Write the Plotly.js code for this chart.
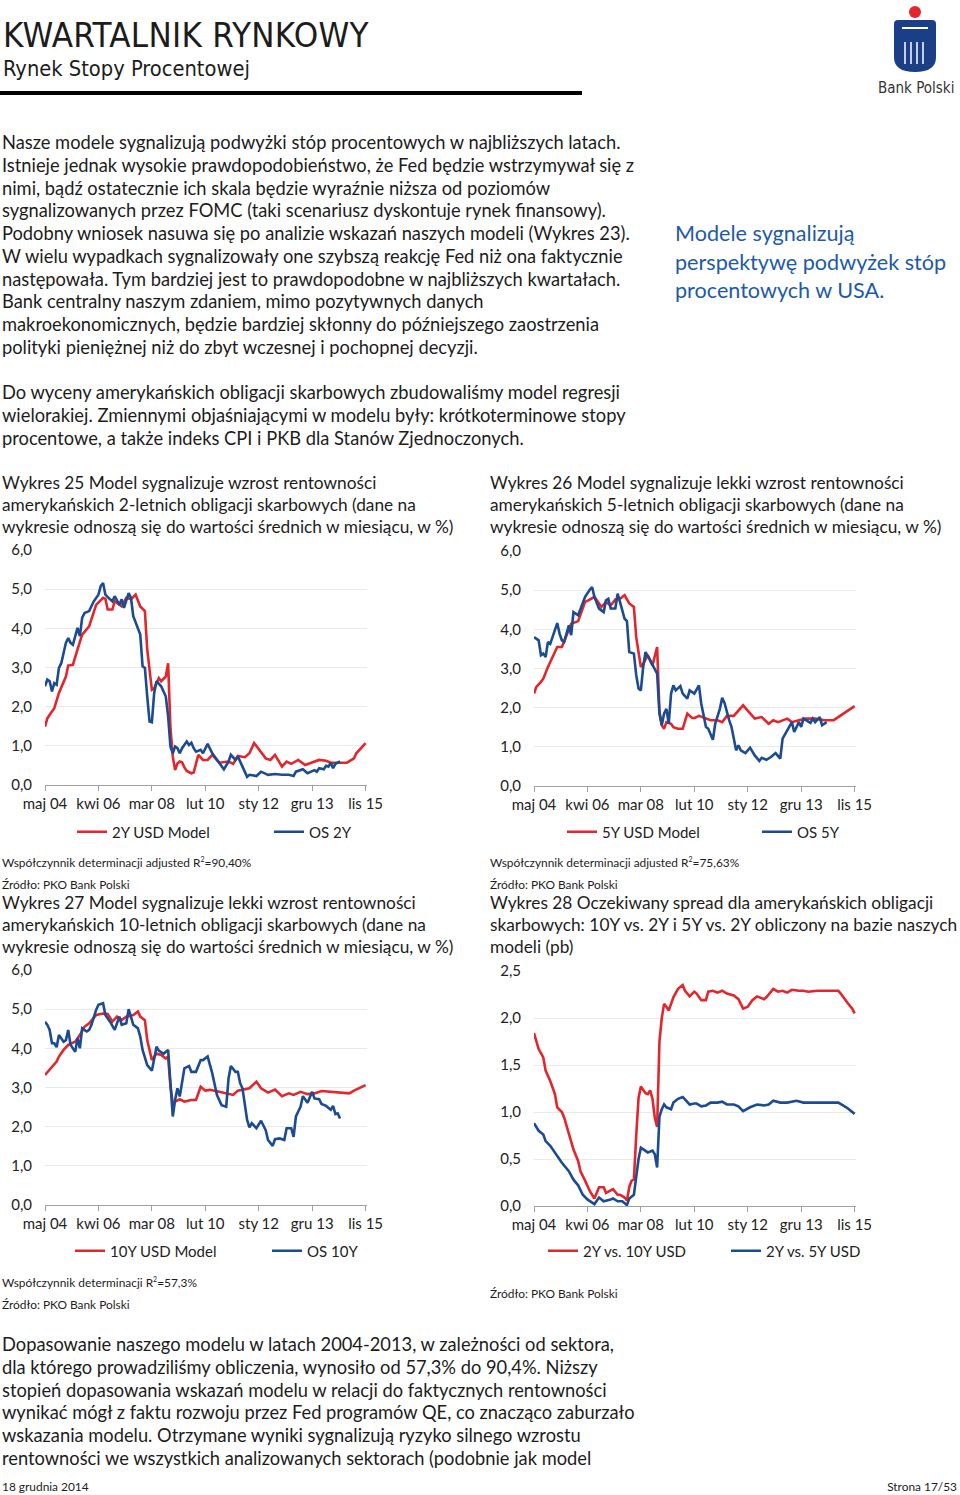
<!DOCTYPE html>
<html><head><meta charset="utf-8">
<script src="https://cdn.plot.ly/plotly-3.0.1.min.js"></script>
<style>
body{margin:0;width:960px;height:1495px;position:relative;background:#fff;font-family:Lato,"Noto Sans",sans-serif;color:#1c1c1c;overflow:hidden}
.t{position:absolute;white-space:nowrap}
.p{font-size:18.3px;line-height:22.75px;left:2px}
.ct{font-size:17.3px;line-height:22px}
.sm{font-size:11.9px}
.ch{position:absolute;width:480px;height:320px}
</style></head><body>
<div class="t" style="left:3px;top:15px;font-family:'Liberation Sans Narrow','DejaVu Sans Condensed',sans-serif;font-size:34.6px;font-weight:300;letter-spacing:0.3px">KWARTALNIK RYNKOWY</div>
<div class="t" style="left:3px;top:56px;font-family:'Liberation Sans Narrow','DejaVu Sans Condensed',sans-serif;font-size:21.7px">Rynek Stopy Procentowej</div>
<div style="position:absolute;left:0;top:91px;width:582px;height:4px;background:#000"></div>
<svg style="position:absolute;left:885px;top:2px" width="60" height="75" viewBox="0 0 60 75">
<circle cx="30" cy="10" r="6" fill="#e2262c"/>
<path d="M9,22 Q9,18 13,18 L47,18 Q51,18 51,22 L51,55 Q51,70 30,70 Q9,70 9,55 Z" fill="#1b3f86"/>
<path d="M17,26 L43,26" stroke="#fff" stroke-width="2"/>
<path d="M20,40 L20,62 M26,40 L26,62 M32,40 L32,62 M38,40 L38,62" stroke="#fff" stroke-width="1.5"/>
</svg>
<div class="t" style="left:878px;top:79px;font-family:'Liberation Sans Narrow','DejaVu Sans Condensed',sans-serif;font-size:15px;color:#333">Bank Polski</div>

<div class="t p" style="top:131px">Nasze modele sygnalizują podwyżki stóp procentowych w najbliższych latach.<br>Istnieje jednak wysokie prawdopodobieństwo, że Fed będzie wstrzymywał się z<br>nimi, bądź ostatecznie ich skala będzie wyraźnie niższa od poziomów<br>sygnalizowanych przez FOMC (taki scenariusz dyskontuje rynek finansowy).<br>Podobny wniosek nasuwa się po analizie wskazań naszych modeli (Wykres 23).<br>W wielu wypadkach sygnalizowały one szybszą reakcję Fed niż ona faktycznie<br>następowała. Tym bardziej jest to prawdopodobne w najbliższych kwartałach.<br>Bank centralny naszym zdaniem, mimo pozytywnych danych<br>makroekonomicznych, będzie bardziej skłonny do późniejszego zaostrzenia<br>polityki pieniężnej niż do zbyt wczesnej i pochopnej decyzji.</div>
<div class="t" style="left:675px;top:219px;font-size:21.6px;line-height:28.5px;color:#1d5aa8">Modele sygnalizują<br>perspektywę podwyżek stóp<br>procentowych w USA.</div>
<div class="t p" style="top:381px">Do wyceny amerykańskich obligacji skarbowych zbudowaliśmy model regresji<br>wielorakiej. Zmiennymi objaśniającymi w modelu były: krótkoterminowe stopy<br>procentowe, a także indeks CPI i PKB dla Stanów Zjednoczonych.</div>

<div class="t ct" style="left:2px;top:472px">Wykres 25 Model sygnalizuje wzrost rentowności<br>amerykańskich 2-letnich obligacji skarbowych (dane na<br>wykresie odnoszą się do wartości średnich w miesiącu, w %)</div>
<div class="t ct" style="left:490px;top:472px">Wykres 26 Model sygnalizuje lekki wzrost rentowności<br>amerykańskich 5-letnich obligacji skarbowych (dane na<br>wykresie odnoszą się do wartości średnich w miesiącu, w %)</div>
<div class="t sm" style="left:2px;top:855px">Współczynnik determinacji adjusted R<sup style="font-size:7px">2</sup>=90,40%</div>
<div class="t sm" style="left:490px;top:855px">Współczynnik determinacji adjusted R<sup style="font-size:7px">2</sup>=75,63%</div>
<div class="t sm" style="left:2px;top:877px">Źródło: PKO Bank Polski</div>
<div class="t sm" style="left:490px;top:877px">Źródło: PKO Bank Polski</div>
<div class="t ct" style="left:2px;top:892px">Wykres 27 Model sygnalizuje lekki wzrost rentowności<br>amerykańskich 10-letnich obligacji skarbowych (dane na<br>wykresie odnoszą się do wartości średnich w miesiącu, w %)</div>
<div class="t ct" style="left:490px;top:892px">Wykres 28 Oczekiwany spread dla amerykańskich obligacji<br>skarbowych: 10Y vs. 2Y i 5Y vs. 2Y obliczony na bazie naszych<br>modeli (pb)</div>
<div class="t sm" style="left:2px;top:1275px">Współczynnik determinacji R<sup style="font-size:7px">2</sup>=57,3%</div>
<div class="t sm" style="left:2px;top:1297px">Źródło: PKO Bank Polski</div>
<div class="t sm" style="left:490px;top:1286px">Źródło: PKO Bank Polski</div>

<div class="t p" style="top:1333px">Dopasowanie naszego modelu w latach 2004-2013, w zależności od sektora,<br>dla którego prowadziliśmy obliczenia, wynosiło od 57,3% do 90,4%. Niższy<br>stopień dopasowania wskazań modelu w relacji do faktycznych rentowności<br>wynikać mógł z faktu rozwoju przez Fed programów QE, co znacząco zaburzało<br>wskazania modelu. Otrzymane wyniki sygnalizują ryzyko silnego wzrostu<br>rentowności we wszystkich analizowanych sektorach (podobnie jak model</div>
<div class="t sm" style="left:2px;top:1479px">18 grudnia 2014</div>
<div class="t sm" style="right:3px;top:1479px">Strona 17/53</div>

<div id="c1" class="ch" style="left:0;top:530px"></div>
<div id="c2" class="ch" style="left:488px;top:531px"></div>
<div id="c3" class="ch" style="left:0;top:950px"></div>
<div id="c4" class="ch" style="left:488px;top:951px"></div>

<script>
// x values: months since May 2004
const xTickMonths = [0, 23, 46, 69, 92, 115, 138];
const xTickLabels = ['maj 04', 'kwi 06', 'mar 08', 'lut 10', 'sty 12', 'gru 13', 'lis 15'];

// Wykres 25: 2Y
const m2yModel = [0,1,3,4,6,9,10,12,14,16,19,22,25,26,27,29,30,33,35,37,39,41,43,44,46,47,49,50,52,53,54,55,56,57,58,59,60,61,63,64,66,68,70,72,75,79,81,83,86,88,90,92,95,97,99,102,104,106,109,112,115,118,121,123,130,133,134,136,138];
const v2yModel = [1.49,1.70,1.88,1.96,2.35,2.77,3.05,3.07,3.46,3.84,4.05,4.60,4.78,4.75,4.48,4.48,4.69,4.56,4.78,4.74,4.86,4.56,4.44,3.46,2.43,2.47,2.73,2.65,2.77,3.11,1.45,0.73,0.38,0.55,0.60,0.58,0.45,0.36,0.30,0.32,0.77,0.64,0.64,0.77,0.57,0.60,0.54,0.74,0.71,0.81,1.07,0.92,0.68,0.64,0.77,0.47,0.60,0.54,0.64,0.51,0.57,0.64,0.62,0.57,0.57,0.68,0.81,0.94,1.07];
const m2yOS = [0,1,2,3,4,5,6,7,9,10,11,12,14,15,16,17,19,21,23,24,25,26,28,29,30,32,33,34,36,37,38,40,41,42,43,44,45,46,47,48,50,52,53,54,55,56,57,58,59,61,62,63,64,65,67,68,70,72,74,75,77,79,80,82,83,85,87,88,91,93,96,99,102,105,107,108,110,111,113,116,117,118,120,121,122,123,124,125,127];
const v2yOS = [2.52,2.69,2.65,2.39,2.60,2.56,2.99,3.11,3.63,3.75,3.63,3.58,4.01,3.80,4.27,4.39,4.44,4.69,4.86,5.08,5.16,4.86,4.74,4.69,4.82,4.60,4.74,4.52,4.90,4.78,4.31,4.01,3.84,3.03,2.99,2.26,1.62,1.60,2.35,2.65,2.52,2.26,1.75,0.98,0.81,0.98,0.94,0.81,0.94,1.11,1.02,1.08,0.94,0.85,0.90,0.81,1.05,0.81,0.64,0.55,0.40,0.60,0.77,0.64,0.73,0.47,0.21,0.26,0.23,0.34,0.26,0.28,0.26,0.26,0.23,0.34,0.38,0.40,0.30,0.38,0.34,0.43,0.40,0.49,0.47,0.57,0.43,0.54,0.60];

// Wykres 26: 5Y
const m5yModel = [0,1,3,4,6,8,10,12,14,16,19,22,24,26,28,29,31,33,35,37,39,41,43,44,46,47,49,51,53,54,55,56,57,59,60,62,64,66,68,69,71,74,76,79,81,83,86,90,93,95,98,101,103,105,109,111,114,117,121,125,129,131,133,135,138];
const v5yModel = [2.36,2.53,2.66,2.74,3.04,3.29,3.55,3.55,3.85,4.14,4.21,4.70,4.76,4.83,4.66,4.57,4.70,4.61,4.76,4.78,4.87,4.66,4.57,3.80,3.04,3.12,3.34,3.08,3.55,1.90,1.55,1.46,1.63,1.59,1.50,1.46,1.46,1.85,1.74,1.73,1.79,1.72,1.68,1.68,1.63,1.79,1.79,2.06,1.87,1.72,1.76,1.59,1.68,1.63,1.72,1.63,1.68,1.72,1.72,1.68,1.68,1.76,1.85,1.93,2.04];
const m5yOS = [0,2,3,4,5,6,7,9,10,11,12,13,15,16,17,19,20,22,24,25,26,28,30,31,32,33,35,36,37,39,40,41,43,44,45,46,47,48,50,52,53,54,55,56,57,58,59,60,61,63,64,66,67,69,71,72,74,75,77,78,80,81,82,84,85,87,88,89,91,93,95,97,98,100,102,104,106,107,109,111,112,114,115,116,119,120,121,123,124,126];
const v5yOS = [3.80,3.72,3.34,3.38,3.29,3.68,3.63,3.97,4.16,3.89,3.72,3.68,4.10,3.85,4.44,4.36,4.53,4.83,5.01,5.08,4.83,4.53,4.44,4.74,4.78,4.53,4.53,4.91,4.70,4.27,4.21,3.42,3.38,2.83,2.49,2.44,3.04,3.42,3.21,3.00,2.87,1.85,1.55,1.85,1.97,1.59,2.36,2.57,2.44,2.55,2.36,2.23,2.44,2.36,2.57,2.10,1.51,1.46,1.18,1.59,1.97,2.25,2.12,1.68,1.51,0.91,1.04,0.91,0.84,0.98,0.78,0.64,0.72,0.67,0.74,0.84,0.70,1.21,1.42,1.63,1.38,1.63,1.51,1.72,1.61,1.72,1.63,1.76,1.55,1.63];

// Wykres 27: 10Y
const m10yModel = [0,2,3,5,6,8,10,13,15,17,19,22,25,27,29,31,33,35,38,40,41,43,44,46,48,50,52,53,54,55,56,58,60,63,65,67,69,71,75,78,81,83,88,91,93,96,99,102,105,107,110,113,116,119,124,128,131,133,135,138];
const v10yModel = [3.32,3.45,3.51,3.66,3.79,3.96,4.09,4.17,4.34,4.55,4.64,4.85,4.89,4.88,4.68,4.81,4.72,4.81,4.85,4.94,4.81,4.72,4.21,3.70,3.87,3.83,3.74,3.79,3.02,2.60,2.64,2.70,2.64,2.68,2.68,3.02,2.92,2.94,2.89,2.85,2.81,2.92,2.98,3.15,2.98,2.87,2.95,2.78,2.85,2.81,2.89,2.83,2.85,2.91,2.89,2.87,2.85,2.92,2.98,3.06];
const m10yOS = [0,1,2,3,4,5,6,8,9,10,11,12,13,14,15,16,18,19,20,22,23,25,26,28,30,32,33,35,36,38,40,41,42,44,46,48,49,51,53,54,55,56,57,58,59,60,62,63,65,67,68,70,72,74,76,78,79,80,82,83,84,85,87,88,89,91,93,95,96,98,99,101,103,104,106,107,108,110,111,113,115,116,118,119,121,123,124,125,126,127];
const v10yOS = [4.68,4.60,4.47,4.13,4.13,4.03,4.34,4.17,4.21,4.47,4.09,4.00,3.91,4.26,4.00,4.51,4.43,4.47,4.60,4.98,5.11,5.15,4.85,4.68,4.47,4.81,4.60,4.64,5.00,4.60,4.51,4.30,3.96,3.57,3.43,4.04,3.94,3.86,3.96,3.11,2.26,2.68,2.98,2.77,3.15,3.49,3.55,3.40,3.40,3.70,3.70,3.79,3.36,2.81,2.55,2.51,3.23,3.55,3.40,3.40,3.11,2.98,2.17,1.98,2.09,1.96,2.15,1.91,1.66,1.51,1.68,1.70,1.66,1.96,1.96,1.74,2.26,2.51,2.78,2.61,2.89,2.72,2.70,2.58,2.53,2.43,2.53,2.32,2.34,2.21];

// Wykres 28: spreads
const mSpread10 = [0,1,2,4,5,7,9,10,12,13,15,17,19,20,22,24,26,28,30,31,34,36,37,39,40,41,42,43,44,45,46,47,48,49,50,51,52,53,54,55,56,57,58,59,60,62,64,65,67,69,70,72,74,75,77,79,81,83,86,88,90,92,94,96,99,100,103,105,107,109,111,114,116,118,122,126,131,132,134,135,137,138];
const vSpread10 = [1.84,1.74,1.67,1.58,1.44,1.33,1.19,1.05,1.00,0.94,0.76,0.60,0.48,0.37,0.27,0.16,0.08,0.20,0.20,0.14,0.18,0.12,0.12,0.09,0.06,0.20,0.27,0.28,0.75,1.15,1.27,1.24,1.20,1.19,1.23,1.14,0.94,0.84,1.75,2.00,2.15,2.12,2.08,2.15,2.22,2.31,2.35,2.29,2.23,2.28,2.26,2.19,2.19,2.28,2.29,2.27,2.29,2.26,2.24,2.20,2.10,2.12,2.19,2.23,2.20,2.22,2.31,2.28,2.29,2.27,2.30,2.29,2.29,2.28,2.29,2.29,2.29,2.26,2.19,2.16,2.10,2.05];
const mSpread5 = [0,1,2,4,5,7,9,11,12,15,17,19,21,23,26,28,30,33,34,36,38,40,41,43,44,45,46,47,49,51,52,53,54,55,56,57,59,60,62,64,65,67,69,70,72,74,76,79,81,83,86,88,90,93,96,99,101,103,106,109,113,116,121,125,131,133,135,138];
const vSpread5 = [0.88,0.84,0.80,0.76,0.69,0.64,0.57,0.49,0.46,0.37,0.28,0.22,0.12,0.07,0.02,0.09,0.05,0.07,0.08,0.05,0.05,0.01,0.08,0.12,0.30,0.50,0.62,0.60,0.57,0.59,0.55,0.41,0.95,1.03,1.08,1.05,1.03,1.10,1.14,1.16,1.13,1.08,1.09,1.09,1.06,1.07,1.10,1.10,1.11,1.08,1.08,1.06,1.01,1.05,1.08,1.07,1.08,1.12,1.10,1.10,1.12,1.10,1.10,1.10,1.10,1.07,1.04,0.98];

const RED = '#e2262c', BLUE = '#1b4b91';
const FONT = 'Lato, "Noto Sans", sans-serif';

// paper spans to the right edge so the one-row legend fits; axis domain keeps the 322 px plot width
function draw(id, series, yMax, yStep, leftPx, legX, legY, entryW) {
  const paperW = 480 - leftPx;
  const traces = series.map(s => ({
    x: s.x, y: s.y, name: s.name, type: 'scatter', mode: 'lines',
    line: {color: s.color, width: 2.6}, hoverinfo: 'skip'
  }));
  const layout = {
    width: 480, height: 320,
    margin: {l: leftPx, r: 0, t: 20, b: 65},
    paper_bgcolor: 'rgba(0,0,0,0)', plot_bgcolor: 'rgba(0,0,0,0)',
    separators: ', ',
    font: {family: FONT, size: 15, color: '#222'},
    showlegend: true,
    legend: {orientation: 'h', xref: 'paper', yref: 'container',
             x: (legX - leftPx) / paperW, xanchor: 'left', y: 1 - legY / 320, yanchor: 'middle',
             font: {family: FONT, size: 15, color: '#222'},
             entrywidth: entryW, entrywidthmode: 'pixels', bgcolor: 'rgba(0,0,0,0)'},
    xaxis: {domain: [0, 322 / paperW], range: [0, 138.6], tickvals: xTickMonths, ticktext: xTickLabels,
            showgrid: false, zeroline: false, showline: true, linecolor: '#a0a0a0', linewidth: 1,
            ticks: 'outside', ticklen: 5, tickcolor: '#a0a0a0', fixedrange: true,
            tickfont: {family: FONT, size: 15, color: '#222'}},
    yaxis: {range: [0, yMax], dtick: yStep, tick0: 0, tickformat: '.1f',
            showgrid: true, gridcolor: '#e9e9e9', gridwidth: 1, zeroline: false, showline: false,
            ticks: '', ticklabelstandoff: 12, fixedrange: true,
            tickfont: {family: FONT, size: 15, color: '#222'}}
  };
  Plotly.newPlot(id, traces, layout, {staticPlot: true, displayModeBar: false});
}

draw('c1', [
  {x: m2yModel, y: v2yModel, name: '2Y USD Model', color: RED},
  {x: m2yOS, y: v2yOS, name: 'OS 2Y', color: BLUE}
], 6, 1, 45, 72, 302, 152);
draw('c2', [
  {x: m5yModel, y: v5yModel, name: '5Y USD Model', color: RED},
  {x: m5yOS, y: v5yOS, name: 'OS 5Y', color: BLUE}
], 6, 1, 46, 74, 301, 150);
draw('c3', [
  {x: m10yModel, y: v10yModel, name: '10Y USD Model', color: RED},
  {x: m10yOS, y: v10yOS, name: 'OS 10Y', color: BLUE}
], 6, 1, 45, 70, 301, 152);
draw('c4', [
  {x: mSpread10, y: vSpread10, name: '2Y vs. 10Y USD', color: RED},
  {x: mSpread5, y: vSpread5, name: '2Y vs. 5Y USD', color: BLUE}
], 2.5, 0.5, 46, 55, 300, 138);
</script>
</body></html>
